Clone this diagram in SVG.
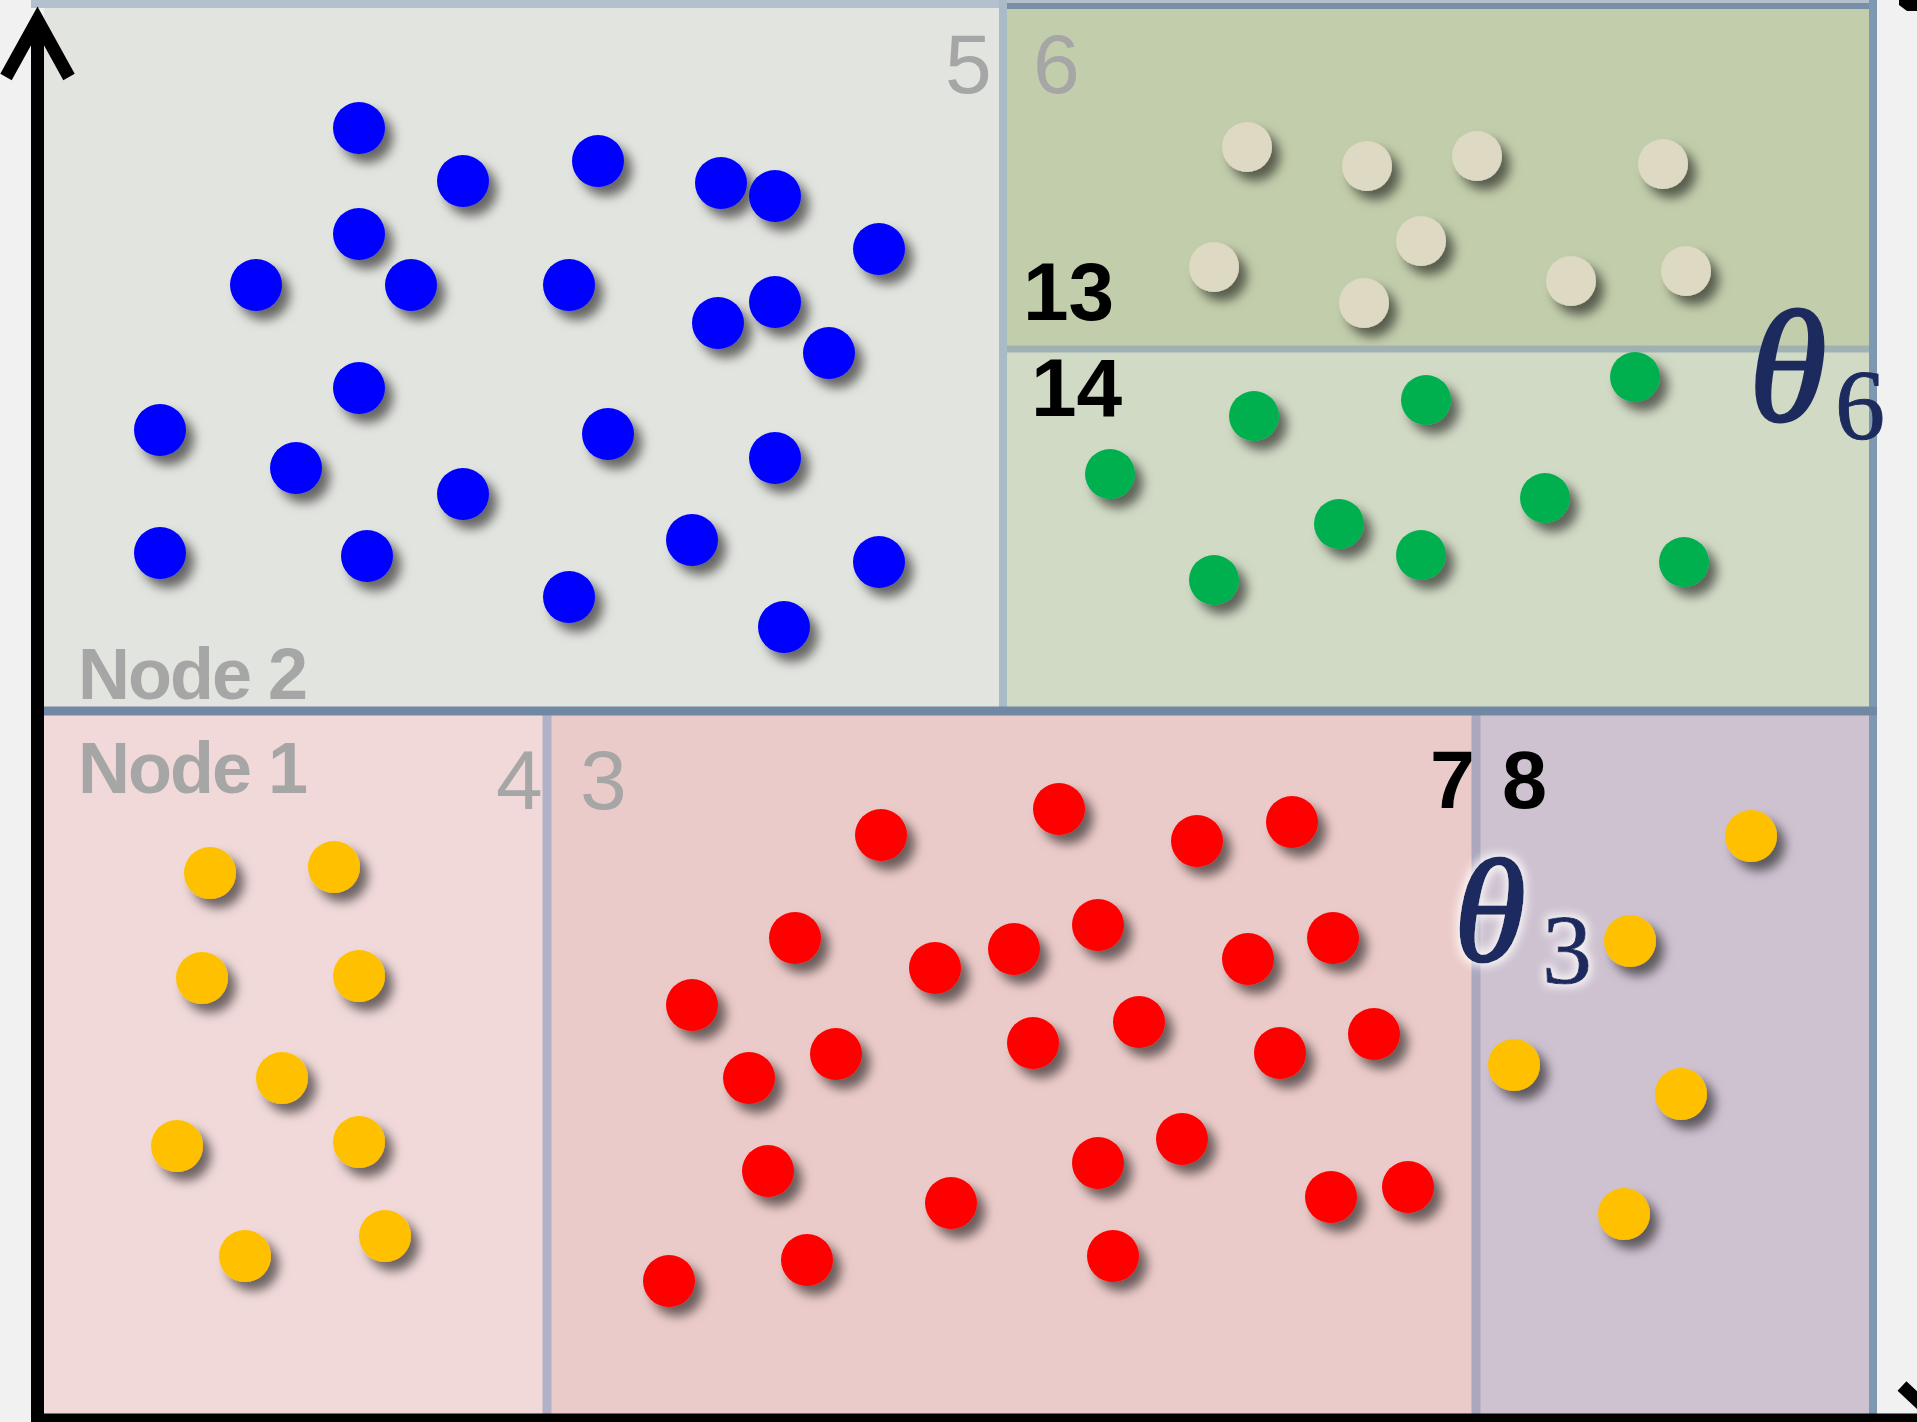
<svg xmlns="http://www.w3.org/2000/svg" width="1917" height="1422" viewBox="0 0 1917 1422">
<style>
.dot{filter:url(#sh)}
.bl{fill:#0000ff}
.rd{fill:#ff0000}
.yl{fill:#ffc000}
.gr{fill:#00b050}
.cr{fill:#ddd9c3}
.glab{font-family:"Liberation Sans",Arial,sans-serif;fill:#a6a6a6}
.klab{font-family:"Liberation Sans",Arial,sans-serif;font-weight:bold;fill:#000}
.th{font-family:"Liberation Serif","Times New Roman",serif;font-style:italic;fill:#1c2a5e;stroke:#1c2a5e;stroke-width:3}
.sub{font-family:"Liberation Serif","Times New Roman",serif;fill:#1c2a5e;stroke:#1c2a5e;stroke-width:1}
.ax{fill:none;stroke:#000;stroke-width:13}
</style>
<defs>
<filter id="sh" x="-50%" y="-50%" width="200%" height="200%">
<feDropShadow dx="8" dy="9" stdDeviation="5.5" flood-color="#000" flood-opacity="0.55"/>
</filter>
<filter id="glow" x="-30%" y="-30%" width="160%" height="160%">
<feMorphology in="SourceAlpha" operator="dilate" radius="3" result="d"/>
<feGaussianBlur in="d" stdDeviation="4" result="b"/>
<feFlood flood-color="#ffffff" flood-opacity="0.8"/>
<feComposite in2="b" operator="in" result="w"/>
<feMerge><feMergeNode in="w"/><feMergeNode in="SourceGraphic"/></feMerge>
</filter>
</defs>
<rect x="0" y="0" width="1917" height="1422" fill="#f1f1f1"/>

<g id="node2">
<rect x="44" y="0" width="959" height="711" fill="#e2e4df"/>
<rect x="31" y="0" width="1846" height="8" fill="#b3c1ce"/>
<text class="glab" x="78" y="699" font-size="72" font-weight="bold" textLength="230">Node 2</text>
<text class="glab" x="945" y="93" font-size="84">5</text>
<circle class="dot bl" cx="359" cy="128" r="26"/>
<circle class="dot bl" cx="463" cy="181" r="26"/>
<circle class="dot bl" cx="598" cy="161" r="26"/>
<circle class="dot bl" cx="721" cy="183" r="26"/>
<circle class="dot bl" cx="775" cy="196" r="26"/>
<circle class="dot bl" cx="359" cy="234" r="26"/>
<circle class="dot bl" cx="879" cy="249" r="26"/>
<circle class="dot bl" cx="256" cy="285" r="26"/>
<circle class="dot bl" cx="411" cy="285" r="26"/>
<circle class="dot bl" cx="569" cy="285" r="26"/>
<circle class="dot bl" cx="718" cy="323" r="26"/>
<circle class="dot bl" cx="775" cy="302" r="26"/>
<circle class="dot bl" cx="829" cy="353" r="26"/>
<circle class="dot bl" cx="359" cy="388" r="26"/>
<circle class="dot bl" cx="160" cy="430" r="26"/>
<circle class="dot bl" cx="296" cy="468" r="26"/>
<circle class="dot bl" cx="608" cy="434" r="26"/>
<circle class="dot bl" cx="775" cy="458" r="26"/>
<circle class="dot bl" cx="463" cy="494" r="26"/>
<circle class="dot bl" cx="160" cy="553" r="26"/>
<circle class="dot bl" cx="367" cy="556" r="26"/>
<circle class="dot bl" cx="692" cy="540" r="26"/>
<circle class="dot bl" cx="879" cy="562" r="26"/>
<circle class="dot bl" cx="569" cy="597" r="26"/>
<circle class="dot bl" cx="784" cy="627" r="26"/>
</g>

<g id="node13">
<rect x="1003" y="4" width="870" height="345" fill="#c2cdab"/>
<rect x="1003" y="3" width="874" height="6" fill="#7890a5"/>
<text class="glab" x="1033" y="93" font-size="84">6</text>
<text class="klab" x="1023" y="320" font-size="82">13</text>
<circle class="dot cr" cx="1247" cy="147" r="25"/>
<circle class="dot cr" cx="1367" cy="166" r="25"/>
<circle class="dot cr" cx="1477" cy="156" r="25"/>
<circle class="dot cr" cx="1663" cy="164" r="25"/>
<circle class="dot cr" cx="1421" cy="241" r="25"/>
<circle class="dot cr" cx="1214" cy="267" r="25"/>
<circle class="dot cr" cx="1571" cy="281" r="25"/>
<circle class="dot cr" cx="1686" cy="271" r="25"/>
<circle class="dot cr" cx="1364" cy="303" r="25"/>
</g>

<g id="node14">
<rect x="1003" y="349" width="870" height="362" fill="#d1dac5"/>
<line x1="1003" y1="349" x2="1873" y2="349" stroke="#9fb1b2" stroke-width="7"/>
<text class="klab" x="1031" y="416" font-size="82">14</text>
<circle class="dot gr" cx="1635" cy="377" r="25"/>
<circle class="dot gr" cx="1254" cy="416" r="25"/>
<circle class="dot gr" cx="1426" cy="400" r="25"/>
<circle class="dot gr" cx="1110" cy="474" r="25"/>
<circle class="dot gr" cx="1545" cy="498" r="25"/>
<circle class="dot gr" cx="1339" cy="524" r="25"/>
<circle class="dot gr" cx="1421" cy="555" r="25"/>
<circle class="dot gr" cx="1214" cy="580" r="25"/>
<circle class="dot gr" cx="1684" cy="562" r="25"/>
</g>

<g id="node1">
<rect x="44" y="711" width="503" height="703" fill="#f1d9d9"/>
<text class="glab" x="78" y="793" font-size="72" font-weight="bold" textLength="230">Node 1</text>
<text class="glab" x="496" y="809" font-size="84">4</text>
<circle class="dot yl" cx="210" cy="873" r="26"/>
<circle class="dot yl" cx="334" cy="867" r="26"/>
<circle class="dot yl" cx="202" cy="978" r="26"/>
<circle class="dot yl" cx="359" cy="976" r="26"/>
<circle class="dot yl" cx="282" cy="1078" r="26"/>
<circle class="dot yl" cx="177" cy="1146" r="26"/>
<circle class="dot yl" cx="359" cy="1142" r="26"/>
<circle class="dot yl" cx="245" cy="1256" r="26"/>
<circle class="dot yl" cx="385" cy="1236" r="26"/>
</g>

<g id="node3">
<rect x="547" y="711" width="929" height="703" fill="#ebcbc9"/>
<text class="glab" x="580" y="809" font-size="84">3</text>
<text class="klab" x="1430" y="808" font-size="81">7</text>
<circle class="dot rd" cx="881" cy="835" r="26"/>
<circle class="dot rd" cx="1059" cy="809" r="26"/>
<circle class="dot rd" cx="1197" cy="841" r="26"/>
<circle class="dot rd" cx="1292" cy="822" r="26"/>
<circle class="dot rd" cx="795" cy="938" r="26"/>
<circle class="dot rd" cx="935" cy="968" r="26"/>
<circle class="dot rd" cx="1014" cy="949" r="26"/>
<circle class="dot rd" cx="1098" cy="925" r="26"/>
<circle class="dot rd" cx="1248" cy="959" r="26"/>
<circle class="dot rd" cx="1333" cy="938" r="26"/>
<circle class="dot rd" cx="692" cy="1005" r="26"/>
<circle class="dot rd" cx="836" cy="1054" r="26"/>
<circle class="dot rd" cx="749" cy="1078" r="26"/>
<circle class="dot rd" cx="1033" cy="1043" r="26"/>
<circle class="dot rd" cx="1139" cy="1022" r="26"/>
<circle class="dot rd" cx="1280" cy="1053" r="26"/>
<circle class="dot rd" cx="1374" cy="1034" r="26"/>
<circle class="dot rd" cx="768" cy="1171" r="26"/>
<circle class="dot rd" cx="951" cy="1203" r="26"/>
<circle class="dot rd" cx="1098" cy="1163" r="26"/>
<circle class="dot rd" cx="1182" cy="1139" r="26"/>
<circle class="dot rd" cx="1331" cy="1197" r="26"/>
<circle class="dot rd" cx="1408" cy="1187" r="26"/>
<circle class="dot rd" cx="669" cy="1281" r="26"/>
<circle class="dot rd" cx="807" cy="1260" r="26"/>
<circle class="dot rd" cx="1113" cy="1256" r="26"/>
</g>

<g id="node8">
<rect x="1476" y="711" width="397" height="703" fill="#cec2d0"/>
<text class="klab" x="1502" y="808" font-size="81">8</text>
<circle class="dot yl" cx="1751" cy="836" r="26"/>
<circle class="dot yl" cx="1630" cy="941" r="26"/>
<circle class="dot yl" cx="1514" cy="1065" r="26"/>
<circle class="dot yl" cx="1681" cy="1094" r="26"/>
<circle class="dot yl" cx="1624" cy="1214" r="26"/>
</g>

<g id="borders">
<line x1="1003" y1="0" x2="1003" y2="711" stroke="#aabbc8" stroke-width="8"/>
<line x1="1873" y1="0" x2="1873" y2="1414" stroke="#7f98b2" stroke-width="8"/>
<line x1="547" y1="711" x2="547" y2="1414" stroke="#b1b1c8" stroke-width="9"/>
<line x1="1476" y1="711" x2="1476" y2="1414" stroke="#aaa7be" stroke-width="9"/>
<line x1="44" y1="711" x2="1877" y2="711" stroke="#7088a4" stroke-width="9"/>
</g>

<g id="thetas">
<g id="theta6">
<text class="th" x="1749" y="420" font-size="158">θ</text>
<text class="sub" x="1835" y="438" font-size="100">6</text>
</g>
<g id="theta3" filter="url(#glow)">
<text class="th" x="1454" y="961" font-size="146">θ</text>
<text class="sub" x="1542" y="983" font-size="100">3</text>
</g>
</g>

<g id="connectors">
<line class="ax" x1="37.5" y1="24" x2="37.5" y2="1422"/>
<polyline class="ax" points="6,77 37.5,20 69,77" stroke-width="12" stroke-linejoin="miter"/>
<line class="ax" x1="31" y1="1420" x2="1917" y2="1420"/>
<polyline class="ax" points="1902,1386 1936,1418 1902,1450" stroke-width="12"/>
<polygon points="1899,0 1917,0 1917,11 1907,11 1899,5" fill="#000"/>
</g>
</svg>
